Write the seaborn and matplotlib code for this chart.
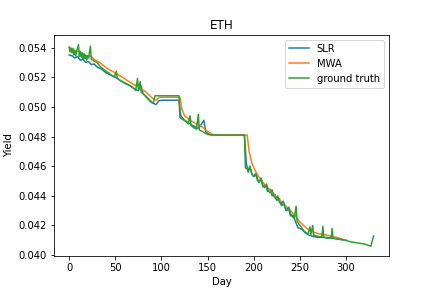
import matplotlib
matplotlib.use("Agg")
import matplotlib.pyplot as plt
import seaborn as sns

# ground truth yield
truth_days = [0, 1, 2, 3, 4, 5, 6, 7, 8, 10, 11, 12, 13, 14, 15, 16, 17, 18, 19, 20, 21, 23, 24,
              26, 28, 30, 32, 34, 36, 38, 40, 43, 46, 49, 51, 52, 55, 58, 61, 64, 67, 70, 72, 74,
              75, 77, 78, 80, 83, 86, 89, 91, 93, 100, 110, 119, 120, 123, 126, 129, 131, 132,
              135, 138, 140, 141, 144, 147, 150, 154, 160, 190, 191, 194, 196, 198, 200, 202, 204,
              206, 208, 210, 212, 214, 216, 218, 220, 222, 224, 226, 228, 230, 232, 234, 236, 238,
              240, 242, 244, 246, 247, 249, 251, 253, 255, 257, 259, 261, 262, 264, 265, 268, 271,
              274, 275, 276, 280, 284, 285, 286, 290, 295, 300, 305, 310, 315, 320, 325, 327, 330]
truth_vals = [0.05400, 0.05370, 0.05395, 0.05365, 0.05395, 0.05350, 0.05380, 0.05345, 0.05375,
              0.05420, 0.05340, 0.05375, 0.05335, 0.05365, 0.05320, 0.05360, 0.05325, 0.05350,
              0.05315, 0.05345, 0.05330, 0.05410, 0.05320, 0.05315, 0.05305, 0.05300, 0.05285,
              0.05270, 0.05260, 0.05250, 0.05240, 0.05228, 0.05214, 0.05202, 0.05240, 0.05195,
              0.05180, 0.05170, 0.05160, 0.05150, 0.05140, 0.05125, 0.05110, 0.05190, 0.05120,
              0.05170, 0.05100, 0.05090, 0.05070, 0.05050, 0.05030, 0.05025, 0.05075, 0.05075,
              0.05075, 0.05075, 0.04930, 0.04915, 0.04905, 0.04885, 0.04940, 0.04875, 0.04860,
              0.04850, 0.04950, 0.04845, 0.04835, 0.04825, 0.04815, 0.04810, 0.04810, 0.04810,
              0.04590, 0.04575, 0.04600, 0.04545, 0.04530, 0.04550, 0.04505, 0.04490, 0.04520,
              0.04470, 0.04455, 0.04480, 0.04430, 0.04420, 0.04440, 0.04395, 0.04380, 0.04400,
              0.04355, 0.04345, 0.04365, 0.04320, 0.04305, 0.04325, 0.04280, 0.04260, 0.04245,
              0.04330, 0.04230, 0.04210, 0.04195, 0.04175, 0.04160, 0.04150, 0.04145, 0.04190,
              0.04140, 0.04200, 0.04135, 0.04130, 0.04125, 0.04125, 0.04195, 0.04120, 0.04120,
              0.04115, 0.04180, 0.04115, 0.04110, 0.04105, 0.04100, 0.04090, 0.04085, 0.04080,
              0.04075, 0.04065, 0.04060, 0.04130]

# SLR prediction
slr_days = [0, 3, 6, 9, 12, 15, 18, 21, 24, 27, 30, 35, 40, 45, 50, 55, 60, 65, 70, 75, 78, 80,
            85, 90, 94, 97, 100, 119, 121, 125, 130, 135, 140, 143, 146, 148, 152, 156, 190, 192,
            194, 196, 198, 200, 203, 205, 208, 210, 213, 215, 218, 220, 223, 225, 228, 230, 233,
            235, 238, 240, 243, 245, 248, 252, 256, 260, 265, 270, 275, 280, 285, 290, 295, 300]
slr_vals = [0.05350, 0.05345, 0.05330, 0.05340, 0.05315, 0.05320, 0.05300, 0.05305, 0.05285,
            0.05290, 0.05270, 0.05255, 0.05230, 0.05215, 0.05200, 0.05180, 0.05160, 0.05145,
            0.05125, 0.05110, 0.05140, 0.05090, 0.05060, 0.05030, 0.05015, 0.05040, 0.05045,
            0.05045, 0.04940, 0.04910, 0.04890, 0.04870, 0.04855, 0.04880, 0.04910, 0.04830,
            0.04815, 0.04810, 0.04810, 0.04620, 0.04560, 0.04590, 0.04550, 0.04530, 0.04545,
            0.04495, 0.04510, 0.04460, 0.04475, 0.04430, 0.04445, 0.04400, 0.04410, 0.04370,
            0.04380, 0.04335, 0.04345, 0.04300, 0.04310, 0.04265, 0.04270, 0.04230, 0.04185,
            0.04175, 0.04150, 0.04135, 0.04125, 0.04120, 0.04120, 0.04115, 0.04115, 0.04110,
            0.04105, 0.04100]

# MWA prediction
mwa_days = [0, 3, 6, 9, 12, 15, 18, 21, 24, 27, 30, 35, 40, 45, 50, 55, 60, 65, 70, 75, 80, 85,
            90, 94, 98, 100, 120, 122, 125, 130, 135, 140, 145, 150, 155, 160, 193, 195, 198, 202,
            206, 210, 215, 220, 225, 230, 235, 240, 245, 250, 255, 260, 265, 270, 275, 280, 285,
            290, 295, 300]
mwa_vals = [0.05405, 0.05390, 0.05380, 0.05375, 0.05370, 0.05355, 0.05345, 0.05345, 0.05340,
            0.05320, 0.05310, 0.05290, 0.05265, 0.05245, 0.05230, 0.05210, 0.05190, 0.05170,
            0.05150, 0.05140, 0.05115, 0.05090, 0.05060, 0.05045, 0.05065, 0.05065, 0.05065,
            0.04990, 0.04940, 0.04915, 0.04895, 0.04880, 0.04860, 0.04835, 0.04815, 0.04810,
            0.04810, 0.04700, 0.04620, 0.04565, 0.04525, 0.04490, 0.04455, 0.04420, 0.04390,
            0.04360, 0.04330, 0.04300, 0.04265, 0.04225, 0.04195, 0.04170, 0.04155, 0.04145,
            0.04140, 0.04135, 0.04125, 0.04120, 0.04110, 0.04100]

fig, ax = plt.subplots(figsize=(6, 4), dpi=72)
sns.lineplot(x=slr_days, y=slr_vals, label="SLR", ax=ax)
sns.lineplot(x=mwa_days, y=mwa_vals, label="MWA", ax=ax)
sns.lineplot(x=truth_days, y=truth_vals, label="ground truth", ax=ax)
ax.set_title("ETH")
ax.set_xlabel("Day")
ax.set_ylabel("Yield")
ax.legend(loc="upper right")
fig.savefig("out.png", dpi=72)
